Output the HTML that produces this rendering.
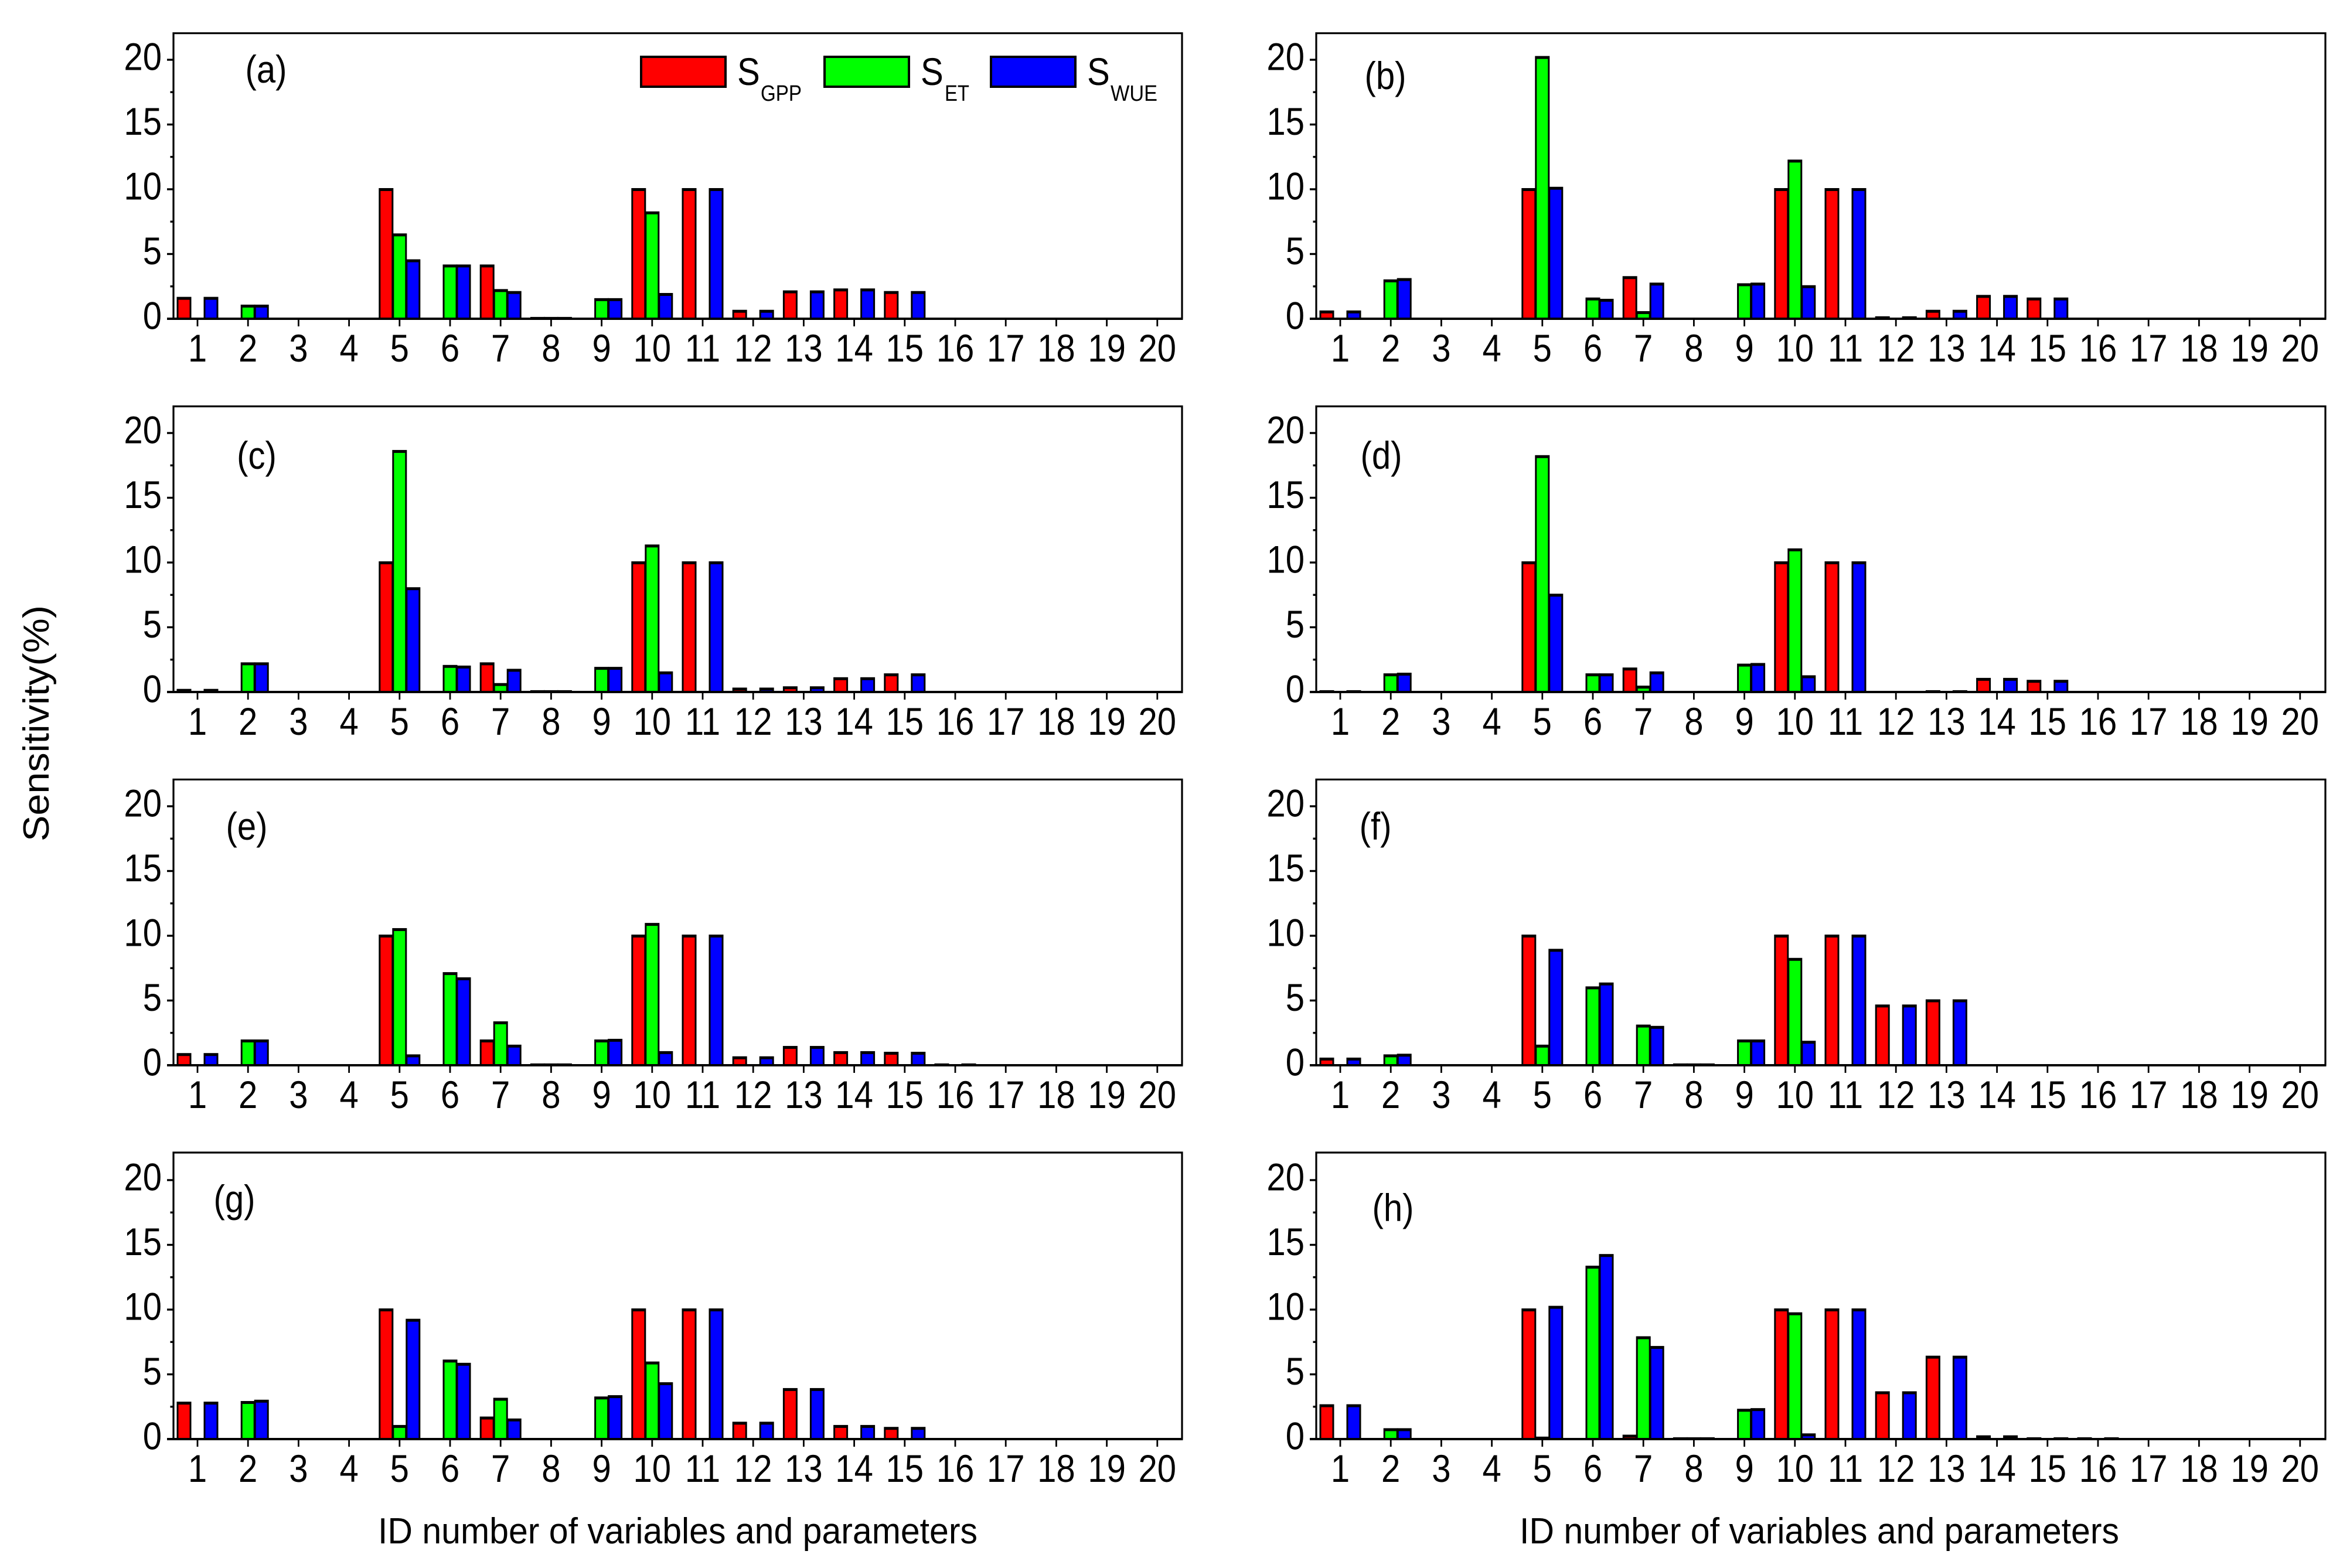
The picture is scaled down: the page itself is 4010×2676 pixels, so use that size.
<!DOCTYPE html>
<html lang="en">
<head>
<meta charset="utf-8">
<title>Sensitivity of GPP, ET and WUE to variables and parameters</title>
<style>
html,body{margin:0;padding:0;background:#fff;}
svg{display:block;}
text{font-family:"Liberation Sans",Arial,sans-serif;fill:#000;}
</style>
</head>
<body>
<svg id="chart" xmlns="http://www.w3.org/2000/svg" width="4010" height="2676" viewBox="0 0 4010 2676">
  <rect x="0" y="0" width="4010" height="2676" fill="#fff"/>
  <text transform="translate(83,1436) rotate(-90)" font-size="62" textLength="403" lengthAdjust="spacingAndGlyphs">Sensitivity(%)</text>
  <text x="645" y="2634" font-size="62" textLength="1023" lengthAdjust="spacingAndGlyphs">ID number of variables and parameters</text>
  <text x="2593" y="2634" font-size="62" textLength="1023" lengthAdjust="spacingAndGlyphs">ID number of variables and parameters</text>
  <g id="panels"></g>
  <g>
    <g>
      <rect x="1094" y="97" width="144" height="51" fill="#ff0000" stroke="#000" stroke-width="4"/>
      <text transform="translate(1258,145) scale(.88,1)" font-size="66">S</text>
      <text x="1298" y="172" font-size="38" textLength="70" lengthAdjust="spacingAndGlyphs">GPP</text>
    </g>
    <g>
      <rect x="1407" y="97" width="144" height="51" fill="#00ff00" stroke="#000" stroke-width="4"/>
      <text transform="translate(1571,145) scale(.88,1)" font-size="66">S</text>
      <text x="1612" y="172" font-size="38" textLength="42" lengthAdjust="spacingAndGlyphs">ET</text>
    </g>
    <g>
      <rect x="1691" y="97" width="144" height="51" fill="#0000ff" stroke="#000" stroke-width="4"/>
      <text transform="translate(1855,145) scale(.88,1)" font-size="66">S</text>
      <text x="1895" y="172" font-size="38" textLength="80" lengthAdjust="spacingAndGlyphs">WUE</text>
    </g>
  </g>
</svg>
<script>
const categories = [1,2,3,4,5,6,7,8,9,10,11,12,13,14,15,16,17,18,19,20];
const yTickLabels = [0,5,10,15,20];
const yMinorTicks = [2.5,7.5,12.5,17.5];

const gppA = [1.6,0,0,0,10,0,4.1,0.05,0,10,10,0.6,2.1,2.25,2.05,0,0,0,0,0];
const etA  = [0,1.0,0,0,6.5,4.1,2.2,0.05,1.5,8.2,0,0,0,0,0,0,0,0,0,0];
const wueA = [1.6,1.0,0,0,4.5,4.1,2.05,0.05,1.5,1.9,10,0.6,2.1,2.25,2.05,0,0,0,0,0];

const gppB = [0.55,0,0,0,10,0,3.2,0,0,10,10,0.1,0.6,1.75,1.55,0,0,0,0,0];
const etB  = [0,2.95,0,0,20.2,1.55,0.5,0,2.65,12.2,0,0,0,0,0,0,0,0,0,0];
const wueB = [0.55,3.05,0,0,10.1,1.45,2.7,0,2.7,2.5,10,0.1,0.6,1.75,1.55,0,0,0,0,0];

const gppC = [0.15,0,0,0,10,0,2.2,0.05,0,10,10,0.25,0.35,1.05,1.35,0,0,0,0,0];
const etC  = [0,2.2,0,0,18.6,2.0,0.6,0.05,1.85,11.3,0,0,0,0,0,0,0,0,0,0];
const wueC = [0.15,2.2,0,0,8.0,1.95,1.7,0.05,1.85,1.5,10,0.25,0.35,1.05,1.35,0,0,0,0,0];

const gppD = [0.05,0,0,0,10,0,1.8,0,0,10,10,0,0.05,1.0,0.85,0,0,0,0,0];
const etD  = [0,1.35,0,0,18.2,1.35,0.4,0,2.1,11.0,0,0,0,0,0,0,0,0,0,0];
const wueD = [0.05,1.4,0,0,7.5,1.35,1.5,0,2.15,1.2,10,0,0.05,1.0,0.85,0,0,0,0,0];

const gppE = [0.85,0,0,0,10,0,1.9,0.05,0,10,10,0.6,1.4,1.0,0.95,0.05,0,0,0,0];
const etE  = [0,1.9,0,0,10.5,7.1,3.3,0.05,1.9,10.9,0,0,0,0,0,0,0,0,0,0];
const wueE = [0.85,1.9,0,0,0.75,6.7,1.5,0.05,1.95,1.0,10,0.6,1.4,1.0,0.95,0.05,0,0,0,0];

const gppF = [0.5,0,0,0,10,0,0,0.05,0,10,10,4.6,5.0,0,0,0,0,0,0,0];
const etF  = [0,0.75,0,0,1.5,6.0,3.05,0.05,1.9,8.2,0,0,0,0,0,0,0,0,0,0];
const wueF = [0.5,0.8,0,0,8.9,6.3,2.95,0.05,1.9,1.8,10,4.6,5.0,0,0,0,0,0,0,0];

const gppG = [2.8,0,0,0,10,0,1.65,0,0,10,10,1.25,3.85,1.0,0.85,0,0,0,0,0];
const etG  = [0,2.85,0,0,1.0,6.05,3.1,0,3.2,5.9,0,0,0,0,0,0,0,0,0,0];
const wueG = [2.8,2.95,0,0,9.2,5.8,1.5,0,3.3,4.3,10,1.25,3.85,1.0,0.85,0,0,0,0,0];

const gppH = [2.6,0,0,0,10,0,0.25,0.05,0,10,10,3.6,6.35,0.2,0.05,0.05,0,0,0,0];
const etH  = [0,0.75,0,0,0.1,13.3,7.85,0.05,2.25,9.7,0,0,0,0,0,0,0,0.0,0,0];
const wueH = [2.6,0.75,0,0,10.2,14.2,7.1,0.05,2.3,0.35,10,3.6,6.35,0.2,0.05,0.05,0,0,0,0];

const panelDefs = [
  {id:'a',col:0,row:0,gpp:gppA,et:etA,wue:wueA,lx:454,ly:141},
  {id:'b',col:1,row:0,gpp:gppB,et:etB,wue:wueB,lx:2364,ly:152},
  {id:'c',col:0,row:1,gpp:gppC,et:etC,wue:wueC,lx:438,ly:800},
  {id:'d',col:1,row:1,gpp:gppD,et:etD,wue:wueD,lx:2357,ly:800},
  {id:'e',col:0,row:2,gpp:gppE,et:etE,wue:wueE,lx:421,ly:1433},
  {id:'f',col:1,row:2,gpp:gppF,et:etF,wue:wueF,lx:2347,ly:1433},
  {id:'g',col:0,row:3,gpp:gppG,et:etG,wue:wueG,lx:400,ly:2069},
  {id:'h',col:1,row:3,gpp:gppH,et:etH,wue:wueH,lx:2377,ly:2084}
];

const NS = 'http://www.w3.org/2000/svg';
const colLeft = [296, 2246];
const colRight = [2017, 3968];
const tick1X = [337, 2287];
const tickStep = 86.2;
const rowTop = [56.7, 693.5, 1330.3, 1967];
const rowAxis = [544, 1181, 1818, 2456];
const pxPerUnit = 22.1;
const barOffset = 23;
const barWidth = 25;
const SX = 0.88;

function node(tag, parent, attrs) {
  const el = document.createElementNS(NS, tag);
  for (const k in attrs) el.setAttribute(k, attrs[k]);
  parent.appendChild(el);
  return el;
}
function xScale(col, id) { return tick1X[col] + (id - 1) * tickStep; }
function yScale(row, v) { return rowAxis[row] - v * pxPerUnit; }

function drawBar(g, def, cat, v, offset, color, seriesName) {
  if (!(v > 0)) return;
  const cx = xScale(def.col, cat) + offset;
  const y0 = rowAxis[def.row];
  const yTop = yScale(def.row, v) - 2;
  const outer = node('rect', g, {x: cx - barWidth / 2, y: yTop, width: barWidth, height: y0 - yTop, fill: '#000'});
  
  
  const innerH = y0 - yTop - 5;
  if (innerH > 0) {
    const inner = node('rect', g, {x: cx - barWidth / 2 + 3, y: yTop + 5, width: barWidth - 6, height: innerH, fill: color});
    
    
  }
}

function drawPanel(def) {
  const root = document.getElementById('panels');
  const g = node('g', root, {});
  
  
  const L = colLeft[def.col], R = colRight[def.col], T = rowTop[def.row], B = rowAxis[def.row];

  categories.forEach(function (cat, i) {
    drawBar(g, def, cat, def.gpp[i], -barOffset, '#ff0000', 'gpp');
    drawBar(g, def, cat, def.et[i], 0, '#00ff00', 'et');
    drawBar(g, def, cat, def.wue[i], barOffset, '#0000ff', 'wue');
  });

  const frame = node('path', g, {d: 'M' + L + ' ' + B + 'V' + T + 'H' + R + 'V' + B, fill: 'none', stroke: '#000', 'stroke-width': 3.2});
  
  
  const axis = node('line', g, {x1: L - 11, x2: R + 1.5, y1: B, y2: B, stroke: '#000', 'stroke-width': 4});
  
  

  yTickLabels.forEach(function (v) {
    const y = yScale(def.row, v);
    const t = node('line', g, {x1: L - 11, x2: L, y1: y, y2: y, stroke: '#000', 'stroke-width': 3.4});
    
    
    const lab = node('text', g, {transform: 'translate(' + (L - 20) + ',' + (y + 17.5) + ') scale(' + SX + ',1)', 'font-size': 66, 'text-anchor': 'end'});
    lab.textContent = String(v);
    
    
  });
  yMinorTicks.forEach(function (v) {
    const y = yScale(def.row, v);
    const t = node('line', g, {x1: L - 5.5, x2: L, y1: y, y2: y, stroke: '#000', 'stroke-width': 3.4});
    
    
  });
  categories.forEach(function (cat) {
    const x = xScale(def.col, cat);
    const t = node('line', g, {x1: x, x2: x, y1: B, y2: B + 13, stroke: '#000', 'stroke-width': 2.8});
    
    
    const lab = node('text', g, {transform: 'translate(' + x + ',' + (B + 73) + ') scale(' + SX + ',1)', 'font-size': 66, 'text-anchor': 'middle'});
    lab.textContent = String(cat);
    
    
  });

  const pl = node('text', g, {transform: 'translate(' + def.lx + ',' + def.ly + ') scale(' + SX + ',1)', 'font-size': 66, 'text-anchor': 'middle'});
  pl.textContent = '(' + def.id + ')';
  
  
}

panelDefs.forEach(drawPanel);
</script>
</body>
</html>
